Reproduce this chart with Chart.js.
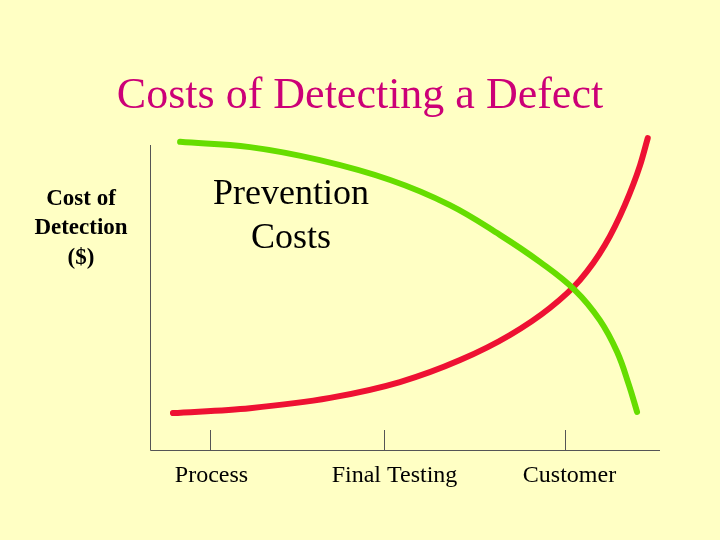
<!DOCTYPE html>
<html><head><meta charset="utf-8">
<script src="https://cdn.jsdelivr.net/npm/chart.js@4"></script>
<style>html,body{margin:0;padding:0;background:#FFFFC4;}#wrap{width:720px;height:540px;}</style>
</head><body><div id="wrap"><canvas id="c" width="720" height="540"></canvas></div>
<script>
const categories = ["Process", "Final Testing", "Customer"];
const categoryPositions = [11.8, 45.9, 81.4];
const preventionX = [5.9, 19.6, 33.3, 47.1, 58.8, 68.6, 76.5, 83.3, 88.2, 91.6, 93.9, 95.5];
const preventionY = [99.4, 97.7, 93.5, 87.1, 79.0, 69.4, 60.6, 51.6, 41.9, 31.6, 21.0, 12.3];
const detectionX = [4.5, 19.6, 35.3, 49.0, 60.8, 70.6, 78.4, 84.3, 89.2, 93.1, 96.1, 97.6];
const detectionY = [11.9, 13.5, 16.8, 21.9, 29.0, 37.1, 45.8, 54.8, 66.1, 79.0, 91.9, 100.6];
const toPts = (xs, ys) => xs.map((x, i) => ({x, y: ys[i]}));

const deco = {
  id: 'deco',
  beforeDraw(chart) {
    const c = chart.ctx; c.save();
    c.fillStyle = '#FFFFC4'; c.fillRect(0, 0, chart.width, chart.height);
    c.restore();
  },
  afterDraw(chart) {
    const c = chart.ctx, xs = chart.scales.x, ys = chart.scales.y;
    const L = xs.left, B = ys.bottom;
    c.save();
    c.strokeStyle = '#555'; c.lineWidth = 1;
    c.beginPath(); c.moveTo(L + 0.5, ys.top + 5); c.lineTo(L + 0.5, B + 0.5); c.lineTo(xs.right, B + 0.5); c.stroke();
    c.font = '24px "Liberation Serif"'; c.fillStyle = '#000'; c.textAlign = 'center'; c.textBaseline = 'middle';
    categoryPositions.forEach((v, i) => {
      const px = Math.round(xs.getPixelForValue(v)) + 0.5;
      c.beginPath(); c.moveTo(px, B - 20); c.lineTo(px, B); c.stroke();
      c.fillText(categories[i], px + (i === 0 ? 1 : i === 1 ? 10 : 4), B + 26);
    });
    c.fillStyle = '#CC0077'; c.font = '44px "Liberation Serif"';
    c.fillText('Costs of Detecting a Defect', 360, 96);
    c.fillStyle = '#000'; c.font = 'bold 23px "Liberation Serif"';
    c.fillText('Cost of', 81, 199); c.fillText('Detection', 81, 228); c.fillText('($)', 81, 258);
    c.font = '36px "Liberation Serif"';
    c.fillText('Prevention', 291, 195); c.fillText('Costs', 291, 239);
    c.restore();
  }
};

new Chart(document.getElementById('c'), {
  type: 'scatter',
  data: { datasets: [
    { label: 'Prevention Costs', data: toPts(preventionX, preventionY), showLine: true, borderColor: '#66DD00', borderWidth: 6, pointRadius: 0, tension: 0.4, clip: false, borderCapStyle: 'round' },
    { label: 'Cost of Detection', data: toPts(detectionX, detectionY), showLine: true, borderColor: '#EE1133', borderWidth: 6, pointRadius: 0, cubicInterpolationMode: 'monotone', clip: false, borderCapStyle: 'round' }
  ]},
  options: {
    responsive: false, animation: false, devicePixelRatio: 1,
    layout: { padding: { left: 150, right: 60, top: 140, bottom: 90 } },
    plugins: { legend: { display: false }, tooltip: { enabled: false } },
    scales: {
      x: { type: 'linear', min: 0, max: 100, display: false },
      y: { type: 'linear', min: 0, max: 100, display: false }
    }
  },
  plugins: [deco]
});
</script></body></html>
